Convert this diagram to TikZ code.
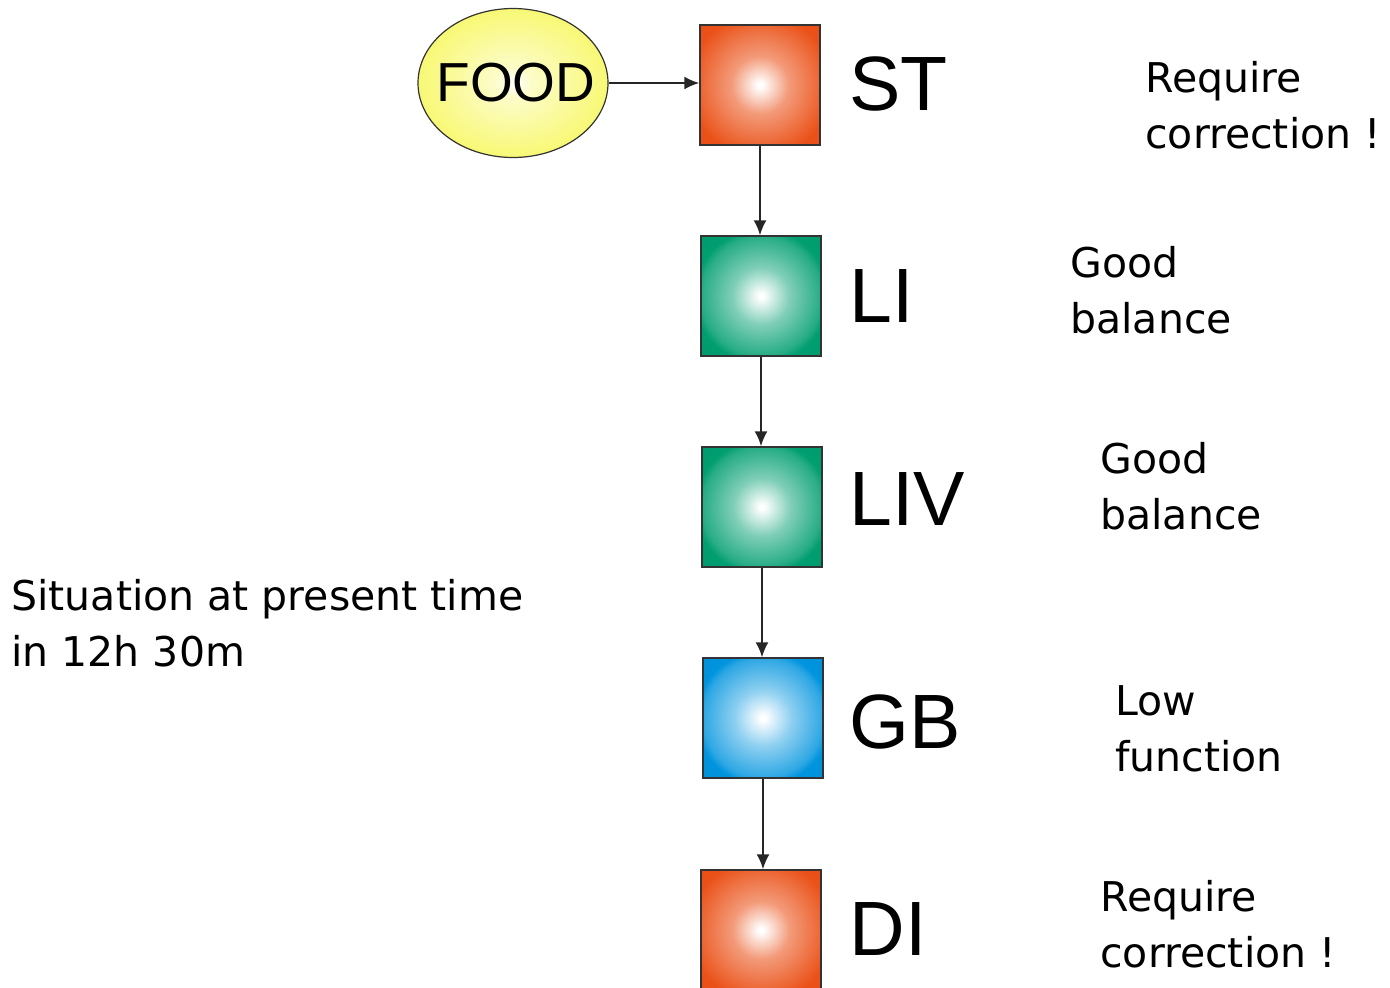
\documentclass[tikz,border=0pt]{standalone}
\usepackage{fontspec}
\setmainfont{DejaVu Sans}
\newfontfamily\labelfont{Liberation Sans}
\usetikzlibrary{shapes.geometric,arrows.meta}

\definecolor{organred}{HTML}{E9480C}
\definecolor{organgreen}{HTML}{009E70}
\definecolor{organblue}{HTML}{0094DE}
\definecolor{foodyellow}{HTML}{F6F64A}

\pgfdeclareradialshading{redball}{\pgfpoint{0bp}{0bp}}{color(0bp)=(white); color(1bp)=(white); color(12bp)=(organred!55!white); color(30bp)=(organred!95!white); color(50bp)=(organred)}
\pgfdeclareradialshading{greenball}{\pgfpoint{0bp}{0bp}}{color(0bp)=(white); color(1bp)=(white); color(12bp)=(organgreen!50!white); color(25bp)=(organgreen!85!white); color(28bp)=(organgreen); color(50bp)=(organgreen!94!black)}
\pgfdeclareradialshading{blueball}{\pgfpoint{0bp}{0bp}}{color(0bp)=(white); color(1bp)=(white); color(12bp)=(organblue!45!white); color(25bp)=(organblue!82!white); color(28bp)=(organblue); color(50bp)=(organblue!94!black)}
\pgfdeclareradialshading{foodball}{\pgfpoint{0bp}{0bp}}{color(0bp)=(white); color(5bp)=(foodyellow!30!white); color(35bp)=(foodyellow); color(50bp)=(foodyellow)}

\tikzset{
  organ/.style={draw=black!80, line width=0.75pt, minimum size=60pt, inner sep=0pt},
  organlabel/.style={anchor=base west, inner sep=0pt, font=\labelfont\fontsize{38.5}{40}\selectfont},
  note/.style={anchor=base west, inner sep=0pt, align=left, font=\fontsize{20.5}{28}\selectfont},
  flow/.style={draw=black!85, line width=0.9pt, -{Latex[length=7.5pt,width=6.5pt]}}
}

\begin{document}
\begin{tikzpicture}[x=0.5pt, y=-0.5pt]
\useasboundingbox (0,0) rectangle (1390,987);

% food source
\node[ellipse, draw=black!80, line width=0.6pt, shading=foodball, minimum width=95pt, minimum height=74.5pt, inner sep=0pt] (food) at (513,83) {};
\node[font=\labelfont\fontsize{27.5}{30}\selectfont, inner sep=0pt] (foodtext) at (516,83) {FOOD};

% organs
\node[organ, shading=redball] (st) at (760,85) {};
\node[organ, shading=greenball] (li) at (761,296) {};
\node[organ, shading=greenball] (liv) at (762,507) {};
\node[organ, shading=blueball] (gb) at (763,718) {};
\node[organ, shading=redball] (di) at (761,930) {};

\node[organlabel] (stlab) at (849,110) {ST};
\node[organlabel] (lilab) at (849,322) {LI};
\node[organlabel] (livlab) at (849,525) {LIV};
\node[organlabel] (gblab) at (849,748) {GB};
\node[organlabel] (dilab) at (849,955) {DI};

% connectors
\draw[flow] (food.east) -- (food.east -| st.west);
\draw[flow] (st.south) -- (st.south |- li.north);
\draw[flow] (li.south) -- (li.south |- liv.north);
\draw[flow] (liv.south) -- (liv.south |- gb.north);
\draw[flow] (gb.south) -- (gb.south |- di.north);

% notes (base = last line)
\node[note] (stnote) at (1145,148) {Require\\correction !};
\node[note] (linote) at (1070,333) {Good\\balance};
\node[note] (livnote) at (1100,529) {Good\\balance};
\node[note] (gbnote) at (1115,771) {Low\\function};
\node[note] (dinote) at (1100,967) {Require\\correction !};

\node[note] (situation) at (11,666) {Situation at present time\\in 12h 30m};
\end{tikzpicture}
\end{document}
